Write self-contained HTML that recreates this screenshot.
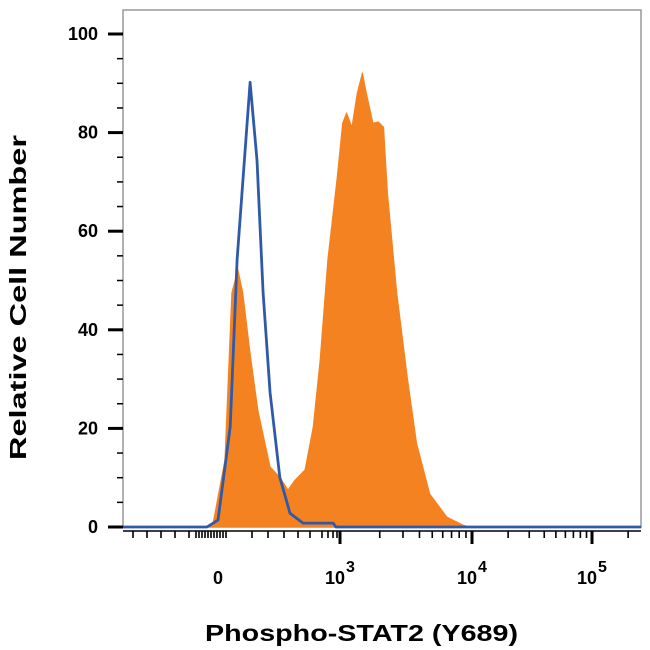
<!DOCTYPE html>
<html><head><meta charset="utf-8"><style>
body{margin:0;background:#fff;}
svg{display:block;font-family:"Liberation Sans",Arial,sans-serif;}
</style></head><body>
<svg id="chart" width="650" height="650" viewBox="0 0 650 650" xmlns="http://www.w3.org/2000/svg">
<g id="plot"></g>
<text x="205" y="641" font-size="23" font-weight="bold" textLength="313" lengthAdjust="spacingAndGlyphs">Phospho-STAT2 (Y689)</text>
<text transform="translate(26,460) rotate(-90)" font-size="23" font-weight="bold" textLength="325" lengthAdjust="spacingAndGlyphs">Relative Cell Number</text>
</svg>
<script>
const isoX = [-2.34,-0.27,0,0.30,0.47,0.79,0.96,1.11,1.28,1.52,1.77,2.09,2.83,2.90,5.41];
const isoY = [0,0,1.4,20.3,54.2,90.2,74.4,47.5,27.2,10.1,2.8,0.8,0.8,0,0];
const stX = [-0.32,-0.12,0.17,0.34,0.49,0.61,0.79,0.98,1.28,1.52,1.72,1.89,2.14,2.34,2.51,2.70,2.93,3.02,3.05,3.09,3.13,3.17,3.20,3.25,3.29,3.33,3.36,3.43,3.51,3.58,3.68,3.81,3.93,3.98];
const stY = [0,0.8,13.6,47.5,52.2,47.5,35.3,23.7,12.2,10.1,7.5,9.5,11.6,20.3,33.9,54.2,71.0,81.9,84.0,81.1,88.0,92.1,88.0,81.9,82.2,81.1,67.7,47.5,30.4,17.0,6.7,2.0,0.4,0];
const yTicks = [0,20,40,60,80,100];
const xTickPos = [0,3,4,5];
const xTickLabels = ["0","10","10","10"];
const xTickSup = ["","3","4","5"];

const L=123,T=10,R=641,B=527;
function sx(u){
  if(u<=3) return 218+u*40.67;
  if(u<=4) return 340+(u-3)*132;
  return 472+(u-4)*120;
}
function sy(v){return B-v*4.93;}
const NS="http://www.w3.org/2000/svg";
const g=document.getElementById('plot');
function mk(tag,attrs){const e=document.createElementNS(NS,tag);for(const k in attrs)e.setAttribute(k,attrs[k]);g.appendChild(e);return e;}

const frame=mk('rect',{x:L,y:T,width:R-L,height:B-T,fill:'none',stroke:'#999','stroke-width':1.5});



let d='M'+sx(stX[0])+','+sy(0);
for(let i=0;i<stX.length;i++) d+=' L'+sx(stX[i]).toFixed(1)+','+sy(stY[i]).toFixed(1);
d+=' L'+sx(stX[stX.length-1])+','+sy(0)+' Z';
const fill=mk('path',{d:d,fill:'#f58220',stroke:'#f58220','stroke-width':1,'stroke-linejoin':'round'});



let d2='';
for(let i=0;i<isoX.length;i++) d2+=(i?' L':'M')+sx(Math.max(isoX[i],-2.34)).toFixed(1)+','+sy(isoY[i]).toFixed(1);
const line=mk('path',{d:d2,fill:'none',stroke:'#2f5aa8','stroke-width':2.8,'stroke-linejoin':'round'});



for(let v=0;v<=100;v+=5){
  const major=v%20===0;
  const t=mk('line',{x1:major?108:117,x2:L,y1:sy(v),y2:sy(v),stroke:'#000','stroke-width':major?3:1.5});
  
  
}
yTicks.forEach(v=>{
  const t=mk('text',{x:98,y:sy(v)+6,'text-anchor':'end','font-size':18,'font-weight':'bold'});
  t.textContent=v;
  
  
});
const minor=[];
for(let x=133;x<200;x+=14) minor.push(x);
for(let x=196;x<=226;x+=3) minor.push(x);
[252,268,284,298,310,322,328,333,337].forEach(x=>minor.push(x));
for(let k=2;k<=9;k++){minor.push(sx(3+Math.log10(k)));minor.push(sx(4+Math.log10(k)));minor.push(sx(5+Math.log10(k)));}
minor.forEach(x=>{ if(x>L&&x<R){
  const t=mk('line',{x1:x,x2:x,y1:B+4,y2:B+11,stroke:'#000','stroke-width':1.6});
  
  
}});
xTickPos.forEach((u,i)=>{
  if(i>0){
    const t=mk('line',{x1:sx(u),x2:sx(u),y1:B+4,y2:B+17,stroke:'#000','stroke-width':3});
    
    
  }
  const tx=mk('text',{x:sx(u)-(xTickSup[i]?5:0),y:B+57,'text-anchor':'middle','font-size':18,'font-weight':'bold'});
  tx.textContent=xTickLabels[i];
  
  
  if(xTickSup[i]){
    const s=mk('text',{x:sx(u)+6,y:B+45,'font-size':16,'font-weight':'bold'});
    s.textContent=xTickSup[i];
    
    
  }
});
const xl=mk('line',{x1:L,x2:R,y1:B+4,y2:B+4,stroke:'#000','stroke-width':1.5});


</script>
</body></html>
